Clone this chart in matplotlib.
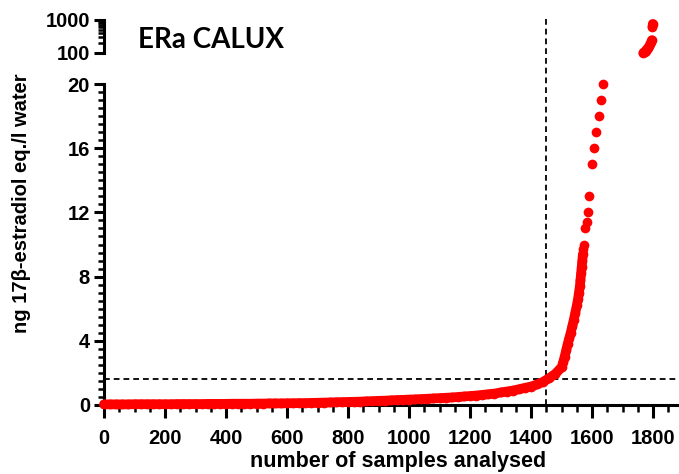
import numpy as np
import matplotlib
matplotlib.use('Agg')
import matplotlib.pyplot as plt
from matplotlib.ticker import MultipleLocator, LogLocator, NullFormatter, FixedLocator

# ── DATA ──────────────────────────────────────────────────────────
# sorted sample results: rank -> ng 17b-estradiol eq./l
low_rank = [0, 20, 40, 60, 80, 100, 120, 140, 160, 180, 200, 220, 240, 260, 280,
            300, 320, 340, 360, 380, 400, 420, 440, 460, 480, 500, 520, 540, 560,
            580, 600, 620, 640, 660, 680, 700, 720, 740, 760, 780, 800, 820, 840,
            860, 880, 900, 920, 940, 960, 980, 1000, 1020, 1040, 1060, 1080, 1100,
            1120, 1140, 1160, 1180, 1200, 1220, 1240, 1260, 1280, 1300, 1320, 1340,
            1360, 1380, 1400, 1420, 1440, 1460, 1480, 1500, 1505, 1510, 1515, 1520,
            1525, 1530, 1535, 1540, 1545, 1550, 1554, 1557, 1560, 1562, 1564, 1566,
            1568, 1570]
low_value = [0.04, 0.04, 0.04, 0.04, 0.04, 0.05, 0.05, 0.05, 0.05, 0.05, 0.05, 0.05,
             0.06, 0.06, 0.06, 0.06, 0.06, 0.07, 0.07, 0.07, 0.07, 0.08, 0.08, 0.08,
             0.08, 0.09, 0.09, 0.10, 0.10, 0.10, 0.11, 0.11, 0.12, 0.12, 0.13, 0.14,
             0.15, 0.16, 0.17, 0.18, 0.19, 0.20, 0.21, 0.23, 0.24, 0.26, 0.27, 0.29,
             0.31, 0.32, 0.34, 0.35, 0.37, 0.39, 0.41, 0.43, 0.45, 0.47, 0.50, 0.53,
             0.56, 0.59, 0.63, 0.67, 0.71, 0.78, 0.84, 0.90, 0.98, 1.07, 1.15, 1.28,
             1.45, 1.68, 1.95, 2.35, 2.65, 3.0, 3.4, 3.8, 4.15, 4.5, 4.9, 5.3, 5.75,
             6.2, 6.6, 7.0, 7.4, 7.8, 8.2, 8.6, 9.0, 9.4]

# separate points above the dense curve (still on the 0-20 scale)
mid_rank = [1571, 1572, 1577, 1584, 1587, 1590, 1599, 1605, 1612, 1622, 1628, 1635]
mid_value = [9.7, 10.0, 11.0, 11.4, 12.0, 13.0, 15.0, 16.0, 17.0, 18.0, 19.0, 20.0]

# highest results, shown on the log segment 100-1000 (two clusters)
high_rank = [1768, 1772, 1776, 1780, 1784, 1788, 1791, 1794, 1796]
high_value = [100, 108, 118, 130, 145, 165, 190, 215, 245]
top_rank = [1798, 1799]
top_value = [620, 760]

x_cut = 1450      # vertical dashed line
y_cut = 1.6       # horizontal dashed line

# ── FIGURE ────────────────────────────────────────────────────────
plt.rcParams['font.family'] = 'Liberation Sans'
plt.rcParams['font.weight'] = 'bold'

W, H = 679, 474
fig = plt.figure(figsize=(W / 100, H / 100), dpi=100)

x0 = 104
ax = fig.add_axes([x0 / W, 1 - 405 / H, (W - x0) / W, (405 - 84) / H])
ax_top = fig.add_axes([x0 / W, 1 - 53 / H, (W - x0) / W, (53 - 20) / H])

red = '#FF0000'
ms = 7.0
for a in (ax, ax_top):
    a.set_xlim(0, 1885)
    a.spines['top'].set_visible(False)
    a.spines['right'].set_visible(False)
    a.spines['left'].set_linewidth(2.2)
    a.tick_params(axis='y', which='major', length=7, width=2.2, labelsize=14.5, pad=3)
    a.tick_params(axis='y', which='minor', length=4, width=1.8)
    a.patch.set_alpha(0)

# bottom (linear) segment - dense points drawn as an overlapping band
ax.plot(low_rank, low_value, '-o', color=red, ms=ms, lw=ms, mec='none',
        solid_capstyle='round', solid_joinstyle='round', clip_on=False, zorder=3)
ax.plot(mid_rank, mid_value, 'o', color=red, ms=ms, mec='none', clip_on=False, zorder=3)
ax.set_ylim(0, 20)
ax.yaxis.set_major_locator(MultipleLocator(4))
ax.yaxis.set_minor_locator(MultipleLocator(0.5))
ax.xaxis.set_major_locator(MultipleLocator(200))
ax.xaxis.set_minor_locator(MultipleLocator(50))
ax.spines['bottom'].set_linewidth(2.2)
ax.tick_params(axis='x', which='major', length=9, width=2.2, labelsize=14.5, pad=8)
ax.tick_params(axis='x', which='minor', length=5, width=1.8)

ax.axhline(y_cut, color='black', lw=1.3, ls=(0, (3.2, 2.2)), zorder=2)
ax.axvline(x_cut, ymin=0, ymax=(405 - 18) / (405 - 84), color='black', lw=1.3,
           ls=(0, (3.2, 2.2)), clip_on=False, zorder=2)

# top (log) segment
for xs, ys in ((high_rank, high_value), (top_rank, top_value)):
    ax_top.plot(xs, ys, '-o', color=red, ms=ms, lw=ms, mec='none',
                solid_capstyle='round', clip_on=False)
ax_top.set_yscale('log')
ax_top.set_ylim(100, 1000)
ax_top.yaxis.set_major_locator(FixedLocator([100, 1000]))
ax_top.yaxis.set_minor_locator(LogLocator(base=10, subs=np.arange(2, 10)))
ax_top.yaxis.set_minor_formatter(NullFormatter())
ax_top.set_yticklabels(['100', '1000'])
ax_top.spines['bottom'].set_visible(False)
ax_top.tick_params(axis='x', which='both', bottom=False, labelbottom=False)

# ── TEXT ──────────────────────────────────────────────────────────
fig.text(138 / W, 1 - 40 / H, 'ERa CALUX', fontsize=20, fontweight='bold',
         family='Lato', ha='left', va='center')
fig.text(398 / W, 1 - 462 / H, 'number of samples analysed', fontsize=15.5,
         fontweight='bold', ha='center', va='center')
fig.text(22 / W, 1 - 203 / H, 'ng 17\u03b2-estradiol eq./l water', fontsize=14.5,
         fontweight='bold', rotation=90, ha='center', va='center')

fig.savefig('out.png', dpi=100)
